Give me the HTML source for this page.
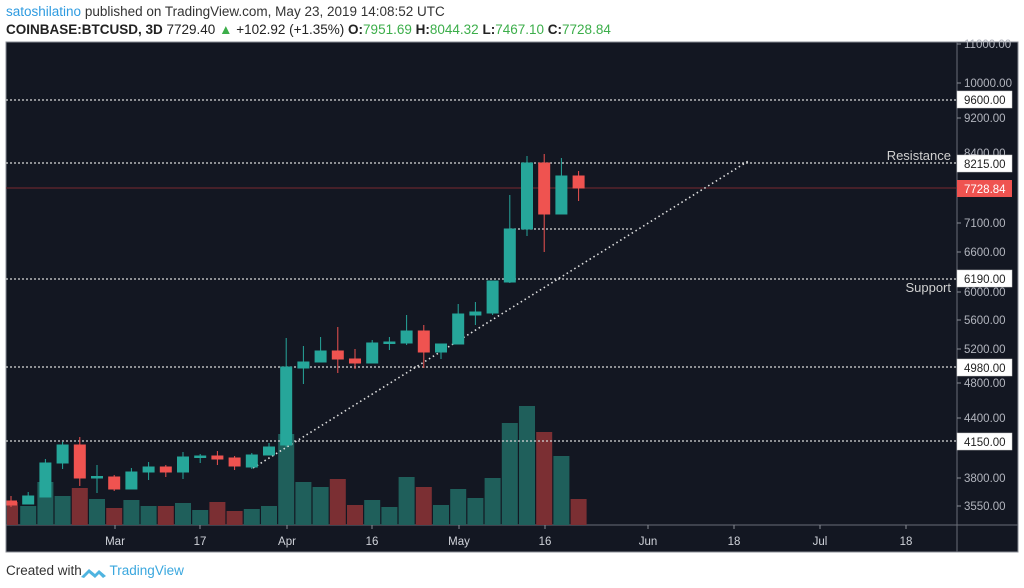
<!DOCTYPE html>
<html><head><meta charset="utf-8"><style>
html,body{margin:0;padding:0;background:#fff;width:1024px;height:588px;overflow:hidden;font-family:"Liberation Sans",sans-serif}
.h1{position:absolute;left:6px;top:4px;font-size:13.5px;color:#333;white-space:nowrap}
.h2{position:absolute;left:6px;top:22px;font-size:13.5px;color:#222;white-space:nowrap}
.g{color:#3cae4a}
.foot{position:absolute;left:6px;top:563px;font-size:13.5px;color:#333;white-space:nowrap}
svg{position:absolute;left:0;top:0}
</style></head><body>
<div class="h1"><span style="color:#2e9be0">satoshilatino</span> published on TradingView.com, May 23, 2019 14:08:52 UTC</div>
<div class="h2"><b>COINBASE:BTCUSD, 3D</b> 7729.40 <span class="g">▲</span> +102.92 (+1.35%) <b>O:</b><span class="g">7951.69</span> <b>H:</b><span class="g">8044.32</span> <b>L:</b><span class="g">7467.10</span> <b>C:</b><span class="g">7728.84</span></div>
<svg width="1024" height="588" xmlns="http://www.w3.org/2000/svg" font-family="Liberation Sans, sans-serif">
<rect x="6" y="42" width="1012" height="510" fill="#131722" stroke="#8a8d95" stroke-width="1"/>
<line x1="957" y1="42" x2="957" y2="552" stroke="#6a6d78"/>
<line x1="6" y1="525" x2="1018" y2="525" stroke="#6a6d78"/>
<g fill="#1f5f5b">
<rect x="20.2" y="506" width="16" height="19"/><rect x="37.4" y="482" width="16" height="43"/><rect x="54.6" y="496" width="16" height="29"/>
<rect x="89" y="499" width="16" height="26"/><rect x="123.4" y="500" width="16" height="25"/><rect x="140.6" y="506" width="16" height="19"/>
<rect x="175" y="503" width="16" height="22"/><rect x="192.2" y="510" width="16" height="15"/><rect x="243.8" y="509" width="16" height="16"/>
<rect x="261" y="506" width="16" height="19"/><rect x="278.2" y="434" width="16" height="91"/><rect x="295.4" y="482" width="16" height="43"/>
<rect x="312.6" y="487" width="16" height="38"/><rect x="364.2" y="500" width="16" height="25"/><rect x="381.4" y="507" width="16" height="18"/>
<rect x="398.6" y="477" width="16" height="48"/><rect x="433" y="505" width="16" height="20"/><rect x="450.2" y="489" width="16" height="36"/>
<rect x="467.4" y="498" width="16" height="27"/><rect x="484.6" y="478" width="16" height="47"/><rect x="501.8" y="423" width="16" height="102"/>
<rect x="519" y="406" width="16" height="119"/><rect x="553.4" y="456" width="16" height="69"/>
</g>
<g fill="#7b2f33">
<rect x="7" y="502" width="11" height="23"/><rect x="71.8" y="488" width="16" height="37"/><rect x="106.2" y="508" width="16" height="17"/>
<rect x="157.8" y="506" width="16" height="19"/><rect x="209.4" y="502" width="16" height="23"/><rect x="226.6" y="511" width="16" height="14"/>
<rect x="329.8" y="479" width="16" height="46"/><rect x="347" y="505" width="16" height="20"/><rect x="415.8" y="487" width="16" height="38"/>
<rect x="536.2" y="432" width="16" height="93"/><rect x="570.6" y="499" width="16" height="26"/>
</g>
<line x1="6" y1="188" x2="957" y2="188" stroke="#7a2a30" stroke-width="1"/>
<g stroke="#d8d8d8" stroke-width="1.3" stroke-dasharray="2,2">
<line x1="6" y1="100" x2="957" y2="100"/><line x1="6" y1="163" x2="957" y2="163"/>
<line x1="6" y1="279" x2="957" y2="279"/><line x1="6" y1="367" x2="957" y2="367"/>
<line x1="6" y1="441" x2="957" y2="441"/><line x1="510" y1="229" x2="632" y2="229"/>
</g>
<line x1="253" y1="468" x2="750" y2="160" stroke="#e0e0e0" stroke-width="1.6" stroke-dasharray="1.5,3"/>
<g stroke="#ef5350" fill="#ef5350">
<line x1="11" y1="496" x2="11" y2="507"/><rect x="7" y="501" width="9.5" height="4"/>
<line x1="79.8" y1="437" x2="79.8" y2="486"/><rect x="74.3" y="445" width="11" height="33"/>
<line x1="114.2" y1="475" x2="114.2" y2="491"/><rect x="108.7" y="477" width="11" height="12"/>
<line x1="165.8" y1="465" x2="165.8" y2="477"/><rect x="160.3" y="467" width="11" height="5"/>
<line x1="217.4" y1="451" x2="217.4" y2="465"/><rect x="211.9" y="456" width="11" height="3"/>
<line x1="234.6" y1="456" x2="234.6" y2="470"/><rect x="229.1" y="458" width="11" height="8"/>
<line x1="337.8" y1="327" x2="337.8" y2="373"/><rect x="332.3" y="351" width="11" height="8"/>
<line x1="355" y1="349" x2="355" y2="369"/><rect x="349.5" y="359" width="11" height="4"/>
<line x1="423.8" y1="325" x2="423.8" y2="368"/><rect x="418.3" y="331" width="11" height="21"/>
<line x1="544.2" y1="154" x2="544.2" y2="252"/><rect x="538.7" y="163" width="11" height="51"/>
<line x1="578.6" y1="171" x2="578.6" y2="201"/><rect x="573.1" y="176" width="11" height="12"/>
</g>
<g stroke="#26a69a" fill="#26a69a">
<line x1="28.2" y1="492" x2="28.2" y2="504"/><rect x="22.7" y="496" width="11" height="8"/>
<line x1="45.4" y1="459" x2="45.4" y2="497"/><rect x="39.9" y="463" width="11" height="34"/>
<line x1="62.6" y1="442" x2="62.6" y2="469"/><rect x="57.1" y="445" width="11" height="18"/>
<line x1="97" y1="465" x2="97" y2="493"/><rect x="91.5" y="476.5" width="11" height="1.5"/>
<line x1="131.4" y1="468" x2="131.4" y2="489"/><rect x="125.9" y="472" width="11" height="17"/>
<line x1="148.6" y1="462" x2="148.6" y2="480"/><rect x="143.1" y="467" width="11" height="5"/>
<line x1="183" y1="452" x2="183" y2="479"/><rect x="177.5" y="457" width="11" height="15"/>
<line x1="200.2" y1="454" x2="200.2" y2="463"/><rect x="194.7" y="456" width="11" height="1.5"/>
<line x1="251.8" y1="453" x2="251.8" y2="469"/><rect x="246.3" y="455" width="11" height="12"/>
<line x1="269" y1="443" x2="269" y2="455"/><rect x="263.5" y="447" width="11" height="8"/>
<line x1="286.2" y1="338" x2="286.2" y2="447"/><rect x="280.7" y="367" width="11" height="78"/>
<line x1="303.4" y1="346" x2="303.4" y2="384"/><rect x="297.9" y="362" width="11" height="6"/>
<line x1="320.6" y1="337" x2="320.6" y2="362"/><rect x="315.1" y="351" width="11" height="11"/>
<line x1="372.2" y1="340" x2="372.2" y2="363"/><rect x="366.7" y="343" width="11" height="20"/>
<line x1="389.4" y1="337" x2="389.4" y2="350"/><rect x="383.9" y="342" width="11" height="1.5"/>
<line x1="406.6" y1="315" x2="406.6" y2="345"/><rect x="401.1" y="331" width="11" height="12"/>
<line x1="441" y1="344" x2="441" y2="359"/><rect x="435.5" y="344" width="11" height="8"/>
<line x1="458.2" y1="304" x2="458.2" y2="344"/><rect x="452.7" y="314" width="11" height="30"/>
<line x1="475.4" y1="302" x2="475.4" y2="325"/><rect x="469.9" y="312" width="11" height="3"/>
<line x1="492.6" y1="281" x2="492.6" y2="315"/><rect x="487.1" y="281" width="11" height="32"/>
<line x1="509.8" y1="195" x2="509.8" y2="283"/><rect x="504.3" y="229" width="11" height="53"/>
<line x1="527" y1="156" x2="527" y2="236"/><rect x="521.5" y="163" width="11" height="66"/>
<line x1="561.4" y1="158" x2="561.4" y2="214"/><rect x="555.9" y="176" width="11" height="38"/>
</g>
<g fill="#b2b5be" font-size="11.5">
<text x="964" y="48">11000.00</text><text x="964" y="87">10000.00</text><text x="964" y="122">9200.00</text>
<text x="964" y="157">8400.00</text><text x="964" y="227">7100.00</text><text x="964" y="256">6600.00</text>
<text x="964" y="296">6000.00</text><text x="964" y="324">5600.00</text><text x="964" y="353">5200.00</text>
<text x="964" y="387">4800.00</text><text x="964" y="422">4400.00</text><text x="964" y="482">3800.00</text>
<text x="964" y="510">3550.00</text>
</g>
<g stroke="#8a8d95">
<line x1="957" y1="44" x2="961" y2="44"/><line x1="957" y1="83" x2="961" y2="83"/><line x1="957" y1="118" x2="961" y2="118"/>
<line x1="957" y1="223" x2="961" y2="223"/><line x1="957" y1="252" x2="961" y2="252"/><line x1="957" y1="292" x2="961" y2="292"/>
<line x1="957" y1="320" x2="961" y2="320"/><line x1="957" y1="349" x2="961" y2="349"/><line x1="957" y1="383" x2="961" y2="383"/>
<line x1="957" y1="418" x2="961" y2="418"/><line x1="957" y1="478" x2="961" y2="478"/><line x1="957" y1="506" x2="961" y2="506"/>
</g>
<g fill="#fff" stroke="#ccc" stroke-width="0.5">
<rect x="957" y="91" width="55" height="17"/><rect x="957" y="155" width="55" height="17"/>
<rect x="957" y="270" width="55" height="17"/><rect x="957" y="359" width="55" height="17"/><rect x="957" y="433" width="55" height="17"/>
</g>
<rect x="957" y="180" width="55" height="17" fill="#ef5350"/>
<g fill="#222" font-size="11.5">
<text x="964" y="104">9600.00</text><text x="964" y="168">8215.00</text><text x="964" y="283">6190.00</text>
<text x="964" y="372">4980.00</text><text x="964" y="446">4150.00</text>
</g>
<text x="964" y="193" fill="#fff" font-size="11.5">7728.84</text>
<text x="951" y="160" fill="#d0d0d0" font-size="13" text-anchor="end">Resistance</text>
<text x="951" y="292" fill="#d0d0d0" font-size="13" text-anchor="end">Support</text>
<g stroke="#8a8d95">
<line x1="115" y1="525" x2="115" y2="529"/><line x1="200" y1="525" x2="200" y2="529"/><line x1="287" y1="525" x2="287" y2="529"/>
<line x1="372" y1="525" x2="372" y2="529"/><line x1="459" y1="525" x2="459" y2="529"/><line x1="545" y1="525" x2="545" y2="529"/>
<line x1="648" y1="525" x2="648" y2="529"/><line x1="734" y1="525" x2="734" y2="529"/><line x1="820" y1="525" x2="820" y2="529"/><line x1="906" y1="525" x2="906" y2="529"/>
</g>
<g fill="#d0d3da" font-size="11.5" text-anchor="middle">
<text x="115" y="545">Mar</text><text x="200" y="545">17</text><text x="287" y="545">Apr</text><text x="372" y="545">16</text>
<text x="459" y="545">May</text><text x="545" y="545">16</text><text x="648" y="545">Jun</text><text x="734" y="545">18</text>
<text x="820" y="545">Jul</text><text x="906" y="545">18</text>
</g>
<path d="M81 577 L89 569 L95 574 L99 570 L106 576 L103 578 L99 574 L95 578 L89 573 L84 578 Z" fill="#4fb4e0"/>
</svg>
<div class="foot">Created with <span style="display:inline-block;width:24px"></span><span style="color:#3aa7de">TradingView</span></div>
</body></html>
